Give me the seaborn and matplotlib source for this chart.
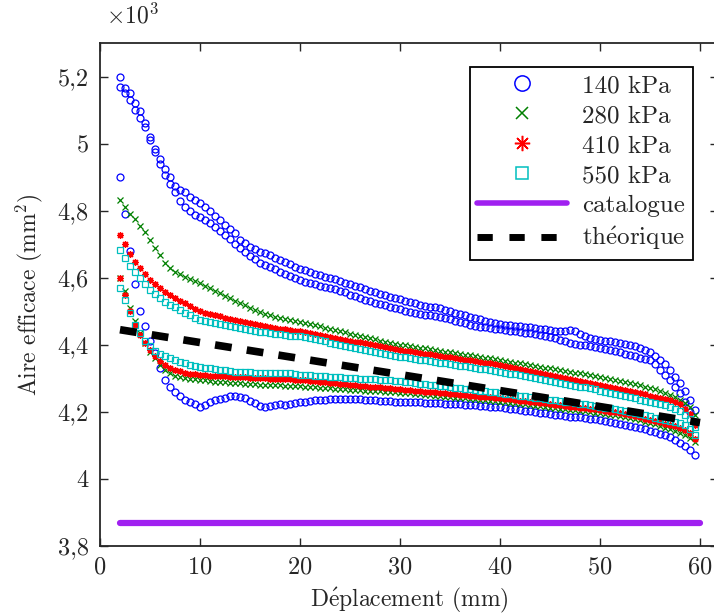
import numpy as np
import seaborn as sns
import matplotlib
matplotlib.use("Agg")
import matplotlib.pyplot as plt
from matplotlib.lines import Line2D
from matplotlib.ticker import FuncFormatter

# déplacement (mm), pas de 0.5 mm
x = np.arange(2.0, 60.0, 0.5)

# aire efficace (x10^3 mm2) - branches montée / descente
blue_up_a = [5.200, 5.165, 5.150, 5.120, 5.096, 5.060, 5.020, 4.985, 4.955, 4.925,
             4.900, 4.875, 4.862, 4.855, 4.840, 4.832, 4.822, 4.810, 4.800, 4.785,
             4.772, 4.758, 4.745, 4.733, 4.712, 4.703, 4.692, 4.685, 4.678, 4.674,
             4.668, 4.660, 4.652, 4.647, 4.640, 4.633, 4.627, 4.622, 4.618, 4.612,
             4.608, 4.603, 4.600, 4.596, 4.590, 4.585, 4.580, 4.576, 4.571, 4.565,
             4.560, 4.556, 4.552, 4.548, 4.544, 4.540, 4.536, 4.532, 4.528, 4.524,
             4.520, 4.517, 4.514, 4.512, 4.510, 4.505, 4.500, 4.496, 4.492, 4.488,
             4.484, 4.480, 4.476, 4.472, 4.468, 4.465, 4.462, 4.460, 4.458, 4.456,
             4.455, 4.454, 4.452, 4.450, 4.448, 4.446, 4.443, 4.440, 4.440, 4.442,
             4.444, 4.440, 4.432, 4.425, 4.420, 4.416, 4.414, 4.412, 4.410, 4.407,
             4.404, 4.402, 4.400, 4.395, 4.390, 4.385, 4.378, 4.368, 4.355, 4.342,
             4.325, 4.305, 4.286, 4.262, 4.236, 4.205]
blue_up_b = [5.170, 5.150, 5.130, 5.100, 5.077, 5.050, 5.010, 4.975, 4.940, 4.905,
             4.880, 4.855, 4.828, 4.812, 4.800, 4.788, 4.780, 4.772, 4.762, 4.752,
             4.740, 4.728, 4.715, 4.700, 4.688, 4.676, 4.665, 4.655, 4.645, 4.638,
             4.632, 4.625, 4.618, 4.611, 4.604, 4.598, 4.592, 4.588, 4.585, 4.580,
             4.576, 4.572, 4.568, 4.565, 4.560, 4.556, 4.550, 4.545, 4.540, 4.535,
             4.530, 4.526, 4.522, 4.518, 4.514, 4.510, 4.506, 4.502, 4.498, 4.495,
             4.492, 4.490, 4.488, 4.486, 4.484, 4.480, 4.476, 4.472, 4.468, 4.464,
             4.460, 4.457, 4.454, 4.452, 4.450, 4.448, 4.446, 4.444, 4.442, 4.440,
             4.438, 4.436, 4.434, 4.432, 4.430, 4.427, 4.424, 4.420, 4.415, 4.410,
             4.405, 4.402, 4.400, 4.398, 4.395, 4.392, 4.390, 4.388, 4.385, 4.382,
             4.378, 4.374, 4.370, 4.366, 4.362, 4.358, 4.354, 4.342, 4.325, 4.310,
             4.295, 4.275, 4.256, 4.230, 4.200, 4.170]
blue_down = [4.900, 4.790, 4.680, 4.580, 4.500, 4.455, 4.410, 4.375, 4.330, 4.295,
             4.275, 4.258, 4.246, 4.235, 4.228, 4.222, 4.216, 4.220, 4.228, 4.234,
             4.238, 4.242, 4.246, 4.246, 4.244, 4.240, 4.232, 4.225, 4.218, 4.215,
             4.217, 4.220, 4.222, 4.220, 4.222, 4.225, 4.228, 4.230, 4.232, 4.234,
             4.235, 4.236, 4.237, 4.238, 4.238, 4.238, 4.238, 4.238, 4.237, 4.236,
             4.235, 4.234, 4.233, 4.232, 4.231, 4.230, 4.230, 4.230, 4.229, 4.228,
             4.228, 4.227, 4.226, 4.226, 4.225, 4.224, 4.223, 4.222, 4.222, 4.221,
             4.220, 4.219, 4.218, 4.217, 4.216, 4.215, 4.214, 4.212, 4.210, 4.208,
             4.206, 4.204, 4.202, 4.200, 4.198, 4.196, 4.194, 4.192, 4.190, 4.188,
             4.186, 4.185, 4.184, 4.182, 4.180, 4.178, 4.176, 4.173, 4.170, 4.167,
             4.164, 4.161, 4.158, 4.155, 4.152, 4.148, 4.144, 4.140, 4.135, 4.130,
             4.124, 4.116, 4.108, 4.098, 4.085, 4.070]

green_up = [4.833, 4.810, 4.790, 4.775, 4.755, 4.735, 4.713, 4.690, 4.669, 4.645,
            4.628, 4.618, 4.610, 4.603, 4.596, 4.590, 4.584, 4.576, 4.568, 4.560,
            4.554, 4.547, 4.540, 4.532, 4.525, 4.518, 4.511, 4.505, 4.498, 4.492,
            4.488, 4.484, 4.481, 4.478, 4.475, 4.472, 4.469, 4.466, 4.462, 4.458,
            4.455, 4.451, 4.448, 4.444, 4.440, 4.437, 4.433, 4.430, 4.426, 4.423,
            4.419, 4.416, 4.412, 4.409, 4.405, 4.403, 4.400, 4.398, 4.396, 4.394,
            4.391, 4.389, 4.387, 4.385, 4.382, 4.380, 4.378, 4.376, 4.373, 4.371,
            4.369, 4.366, 4.364, 4.362, 4.360, 4.357, 4.355, 4.352, 4.350, 4.347,
            4.345, 4.342, 4.340, 4.337, 4.335, 4.332, 4.330, 4.327, 4.325, 4.322,
            4.320, 4.317, 4.315, 4.312, 4.310, 4.307, 4.304, 4.301, 4.298, 4.295,
            4.292, 4.289, 4.286, 4.283, 4.279, 4.275, 4.271, 4.267, 4.262, 4.256,
            4.250, 4.243, 4.235, 4.226, 4.216, 4.190]
green_down = [4.600, 4.560, 4.510, 4.470, 4.435, 4.405, 4.380, 4.360, 4.340, 4.325,
              4.315, 4.308, 4.303, 4.300, 4.298, 4.297, 4.296, 4.294, 4.292, 4.290,
              4.289, 4.288, 4.287, 4.286, 4.285, 4.284, 4.283, 4.282, 4.281, 4.280,
              4.280, 4.279, 4.279, 4.278, 4.278, 4.277, 4.276, 4.275, 4.274, 4.273,
              4.272, 4.271, 4.270, 4.269, 4.268, 4.267, 4.266, 4.265, 4.264, 4.263,
              4.262, 4.262, 4.261, 4.260, 4.260, 4.259, 4.257, 4.256, 4.255, 4.253,
              4.252, 4.250, 4.249, 4.248, 4.246, 4.245, 4.244, 4.242, 4.241, 4.240,
              4.238, 4.237, 4.235, 4.234, 4.233, 4.231, 4.230, 4.228, 4.227, 4.225,
              4.223, 4.222, 4.220, 4.218, 4.217, 4.215, 4.213, 4.212, 4.210, 4.208,
              4.207, 4.205, 4.203, 4.202, 4.200, 4.198, 4.197, 4.195, 4.192, 4.190,
              4.187, 4.184, 4.181, 4.178, 4.175, 4.171, 4.167, 4.163, 4.158, 4.153,
              4.148, 4.142, 4.137, 4.130, 4.122, 4.110]

red_up = [4.728, 4.700, 4.672, 4.648, 4.628, 4.610, 4.594, 4.580, 4.568, 4.558,
          4.549, 4.540, 4.532, 4.524, 4.515, 4.507, 4.500, 4.496, 4.492, 4.488,
          4.485, 4.481, 4.478, 4.474, 4.471, 4.468, 4.465, 4.462, 4.459, 4.456,
          4.453, 4.451, 4.448, 4.446, 4.443, 4.441, 4.440, 4.437, 4.434, 4.432,
          4.429, 4.426, 4.423, 4.420, 4.418, 4.415, 4.412, 4.409, 4.407, 4.404,
          4.401, 4.398, 4.396, 4.393, 4.390, 4.388, 4.385, 4.383, 4.381, 4.379,
          4.376, 4.374, 4.372, 4.370, 4.367, 4.365, 4.363, 4.361, 4.358, 4.356,
          4.354, 4.351, 4.349, 4.347, 4.345, 4.342, 4.340, 4.337, 4.334, 4.331,
          4.328, 4.325, 4.322, 4.319, 4.316, 4.313, 4.310, 4.307, 4.304, 4.301,
          4.298, 4.295, 4.291, 4.288, 4.285, 4.282, 4.279, 4.276, 4.273, 4.270,
          4.267, 4.264, 4.261, 4.258, 4.255, 4.252, 4.248, 4.245, 4.242, 4.239,
          4.236, 4.230, 4.222, 4.210, 4.194, 4.160]
red_down = [4.600, 4.550, 4.500, 4.460, 4.430, 4.405, 4.385, 4.368, 4.352, 4.340,
            4.332, 4.326, 4.321, 4.317, 4.314, 4.312, 4.310, 4.309, 4.308, 4.307,
            4.306, 4.306, 4.305, 4.305, 4.304, 4.303, 4.302, 4.301, 4.300, 4.300,
            4.299, 4.299, 4.298, 4.298, 4.297, 4.296, 4.296, 4.294, 4.293, 4.291,
            4.290, 4.288, 4.287, 4.285, 4.284, 4.283, 4.281, 4.280, 4.278, 4.277,
            4.275, 4.274, 4.273, 4.271, 4.270, 4.269, 4.267, 4.266, 4.265, 4.263,
            4.262, 4.260, 4.259, 4.258, 4.256, 4.255, 4.254, 4.252, 4.251, 4.250,
            4.248, 4.247, 4.245, 4.244, 4.243, 4.241, 4.240, 4.238, 4.237, 4.235,
            4.233, 4.232, 4.230, 4.228, 4.226, 4.225, 4.223, 4.221, 4.220, 4.218,
            4.216, 4.214, 4.213, 4.211, 4.209, 4.208, 4.206, 4.204, 4.201, 4.199,
            4.196, 4.193, 4.190, 4.187, 4.184, 4.180, 4.177, 4.173, 4.169, 4.165,
            4.161, 4.157, 4.152, 4.146, 4.138, 4.120]

cyan_up = [4.684, 4.660, 4.636, 4.616, 4.598, 4.580, 4.564, 4.551, 4.540, 4.529,
           4.520, 4.512, 4.504, 4.496, 4.488, 4.481, 4.475, 4.472, 4.469, 4.466,
           4.463, 4.460, 4.457, 4.454, 4.451, 4.448, 4.445, 4.442, 4.439, 4.437,
           4.435, 4.433, 4.431, 4.429, 4.427, 4.426, 4.425, 4.422, 4.419, 4.416,
           4.413, 4.410, 4.406, 4.403, 4.400, 4.397, 4.394, 4.391, 4.388, 4.385,
           4.382, 4.379, 4.376, 4.373, 4.370, 4.368, 4.365, 4.363, 4.361, 4.359,
           4.356, 4.354, 4.352, 4.350, 4.347, 4.345, 4.343, 4.341, 4.338, 4.336,
           4.334, 4.331, 4.329, 4.327, 4.325, 4.322, 4.320, 4.317, 4.314, 4.312,
           4.309, 4.306, 4.303, 4.300, 4.298, 4.295, 4.292, 4.289, 4.286, 4.284,
           4.281, 4.278, 4.275, 4.273, 4.270, 4.267, 4.263, 4.260, 4.257, 4.253,
           4.250, 4.246, 4.243, 4.240, 4.236, 4.233, 4.229, 4.226, 4.223, 4.220,
           4.216, 4.210, 4.202, 4.192, 4.178, 4.156]
cyan_down = [4.570, 4.535, 4.495, 4.460, 4.435, 4.412, 4.395, 4.382, 4.372, 4.366,
             4.360, 4.354, 4.349, 4.345, 4.341, 4.338, 4.335, 4.332, 4.330, 4.328,
             4.326, 4.324, 4.322, 4.320, 4.319, 4.318, 4.318, 4.317, 4.317, 4.316,
             4.316, 4.315, 4.315, 4.315, 4.315, 4.313, 4.311, 4.310, 4.309, 4.308,
             4.307, 4.306, 4.305, 4.304, 4.303, 4.302, 4.301, 4.300, 4.299, 4.299,
             4.298, 4.297, 4.296, 4.296, 4.295, 4.293, 4.291, 4.290, 4.288, 4.286,
             4.284, 4.283, 4.281, 4.279, 4.277, 4.276, 4.274, 4.272, 4.270, 4.269,
             4.267, 4.265, 4.263, 4.262, 4.260, 4.258, 4.256, 4.254, 4.252, 4.250,
             4.248, 4.246, 4.244, 4.242, 4.240, 4.238, 4.236, 4.234, 4.232, 4.230,
             4.228, 4.226, 4.224, 4.222, 4.220, 4.218, 4.216, 4.213, 4.211, 4.208,
             4.205, 4.202, 4.199, 4.196, 4.193, 4.190, 4.187, 4.183, 4.180, 4.177,
             4.173, 4.170, 4.166, 4.160, 4.150, 4.130]

# catalogue et théorique
x_ref = [2.0, 60.0]
catalogue = [3.87, 3.87]
theorique = [4.445, 4.168]

labels = ["140 kPa", "280 kPa", "410 kPa", "550 kPa"]

sns.set_style("ticks")
plt.rcParams["font.family"] = "cmr10"
plt.rcParams["mathtext.fontset"] = "cm"
plt.rcParams["axes.formatter.use_mathtext"] = True
plt.rcParams["axes.linewidth"] = 1.3

fig = plt.figure(figsize=(7.14, 6.16), dpi=100)
ax = fig.add_axes([100 / 714, 70 / 616, 618 / 714, 503 / 616])

star = (8, 2, 0)
series = [
    ([blue_up_a, blue_up_b, blue_down], "o", "#0000ff", 5.0),
    ([green_up, green_down], "x", "#008000", 4.3),
    ([red_up, red_down], star, "#ff0000", 5.0),
    ([cyan_up, cyan_down], "s", "#00bfbf", 4.3),
]
for branches, mk, col, ms in series:
    for yb in branches:
        sns.lineplot(x=x, y=yb, ax=ax, estimator=None, sort=False,
                     linestyle="none", marker=mk, markersize=ms,
                     markerfacecolor="none", markeredgecolor=col,
                     markeredgewidth=0.9, color=col)

sns.lineplot(x=x_ref, y=catalogue, ax=ax, color="#a020f0", linewidth=4.5)
ax.plot(x_ref, theorique, color="black", linewidth=5.5, dashes=(2.2, 2.0))

ax.set_xlim(0, 61.8)
ax.set_ylim(3.8, 5.3)
ax.set_xticks([0, 10, 20, 30, 40, 50, 60])
ax.set_yticks([3.8, 4.0, 4.2, 4.4, 4.6, 4.8, 5.0, 5.2])
ax.yaxis.set_major_formatter(FuncFormatter(lambda v, p: f"{v:g}".replace(".", ",")))
ax.tick_params(direction="in", top=True, right=True, length=6, width=1,
               labelsize=17.5)
ax.tick_params(axis="x", pad=7.5)
ax.tick_params(axis="y", pad=8)
for sp in ax.spines.values():
    sp.set_visible(True)

ax.set_xlabel(r"D$\mathrm{\acute{e}}$placement (mm)", fontsize=17, labelpad=5)
ax.set_ylabel(r"Aire efficace (mm$^2$)", fontsize=17, labelpad=9)
ax.text(0.009, 1.03, r"$\times10^{3}$", transform=ax.transAxes,
        fontsize=17, ha="left", va="bottom")

handles = [
    Line2D([], [], linestyle="none", marker="o", markersize=11,
           markerfacecolor="none", markeredgecolor="#0000ff", markeredgewidth=1.1),
    Line2D([], [], linestyle="none", marker="x", markersize=8,
           markeredgecolor="#008000", markeredgewidth=1.1),
    Line2D([], [], linestyle="none", marker=star, markersize=11,
           markeredgecolor="#ff0000", markeredgewidth=1.1),
    Line2D([], [], linestyle="none", marker="s", markersize=9,
           markerfacecolor="none", markeredgecolor="#00bfbf", markeredgewidth=1.1),
    Line2D([], [], color="#a020f0", linewidth=4),
    Line2D([], [], color="black", linewidth=5, dashes=(2.2, 2.4)),
]
leg_labels = labels + ["catalogue", r"th$\mathrm{\acute{e}}$orique"]
leg = ax.legend(handles, leg_labels, loc="upper right",
                bbox_to_anchor=(0.9595, 0.952), fontsize=18, frameon=True,
                fancybox=False, edgecolor="black", framealpha=1,
                handlelength=3.6, handletextpad=0.6, labelspacing=0.3,
                borderpad=0.3, borderaxespad=0)
leg.get_frame().set_linewidth(1.3)

fig.savefig("out.png", dpi=100)
